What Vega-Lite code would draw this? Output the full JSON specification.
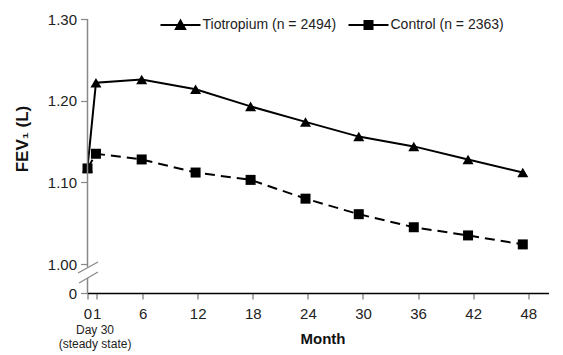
{
  "$schema": "https://vega.github.io/schema/vega-lite/v6.json",
  "width": 461,
  "height": 274,
  "autosize": {"type": "none"},
  "padding": {"left": 87.5, "top": 19, "right": 14.5, "bottom": 62},
  "config": {
    "view": {"stroke": null},
    "font": "Liberation Sans",
    "axis": {"grid": false, "labelFont": "Liberation Sans", "titleFont": "Liberation Sans"},
    "legend": {"labelFont": "Liberation Sans"}
  },
  "datasets": {
    "one": [{"k": 1}]
  },
  "data": {
    "values": [
      {"series": "Tiotropium (n = 2494)", "month": 0, "fev": 1.118},
      {"series": "Tiotropium (n = 2494)", "month": 0.92, "fev": 1.222},
      {"series": "Tiotropium (n = 2494)", "month": 5.9, "fev": 1.226},
      {"series": "Tiotropium (n = 2494)", "month": 11.77, "fev": 1.214},
      {"series": "Tiotropium (n = 2494)", "month": 17.76, "fev": 1.193},
      {"series": "Tiotropium (n = 2494)", "month": 23.74, "fev": 1.174},
      {"series": "Tiotropium (n = 2494)", "month": 29.54, "fev": 1.156},
      {"series": "Tiotropium (n = 2494)", "month": 35.53, "fev": 1.144},
      {"series": "Tiotropium (n = 2494)", "month": 41.44, "fev": 1.128},
      {"series": "Tiotropium (n = 2494)", "month": 47.4, "fev": 1.112},
      {"series": "Control (n = 2363)", "month": 0, "fev": 1.117},
      {"series": "Control (n = 2363)", "month": 0.92, "fev": 1.135},
      {"series": "Control (n = 2363)", "month": 5.9, "fev": 1.128},
      {"series": "Control (n = 2363)", "month": 11.77, "fev": 1.112},
      {"series": "Control (n = 2363)", "month": 17.76, "fev": 1.103},
      {"series": "Control (n = 2363)", "month": 23.74, "fev": 1.080},
      {"series": "Control (n = 2363)", "month": 29.54, "fev": 1.061},
      {"series": "Control (n = 2363)", "month": 35.53, "fev": 1.045},
      {"series": "Control (n = 2363)", "month": 41.44, "fev": 1.035},
      {"series": "Control (n = 2363)", "month": 47.4, "fev": 1.024}
    ]
  },
  "layer": [
    {
      "encoding": {
        "x": {
          "field": "month",
          "type": "quantitative",
          "scale": {"domain": [0, 50.2], "nice": false, "zero": false},
          "axis": {
            "values": [0, 1, 6, 12, 18, 24, 30, 36, 42, 48],
            "format": "d",
            "labelFlush": false,
            "labelOverlap": false,
            "domainColor": "black",
            "domainWidth": 1.5,
            "tickColor": "#777",
            "tickWidth": 1.2,
            "tickSize": 6,
            "labelFontSize": 15,
            "labelColor": "#222",
            "labelPadding": 7,
            "title": "Month",
            "titleFontSize": 15,
            "titleFontWeight": "bold",
            "titleColor": "#111",
            "titleX": 235,
            "titleY": 45,
            "titleAlign": "center",
            "titleBaseline": "middle"
          }
        },
        "y": {
          "field": "fev",
          "type": "quantitative",
          "scale": {"domain": [0, 1, 1.3], "range": [274, 245, 0], "nice": false, "zero": false},
          "axis": {
            "values": [0, 1, 1.1, 1.2, 1.3],
            "labelExpr": "datum.value == 0 ? '0' : format(datum.value, '.2f')",
            "domain": false,
            "tickColor": "#888",
            "tickWidth": 1.2,
            "tickSize": 7,
            "labelFontSize": 15,
            "labelColor": "#222",
            "labelPadding": 4,
            "title": "FEV₁ (L)",
            "titleFontSize": 17,
            "titleFontWeight": "bold",
            "titleColor": "#111",
            "titleX": -65,
            "titleY": 119.5,
            "titleAngle": -90,
            "titleAlign": "center",
            "titleBaseline": "middle"
          }
        }
      },
      "layer": [
        {
          "transform": [{"filter": "datum.series == 'Tiotropium (n = 2494)'"}],
          "mark": {"type": "line", "color": "black", "strokeWidth": 2}
        },
        {
          "transform": [{"filter": "datum.series == 'Control (n = 2363)'"}],
          "mark": {"type": "line", "color": "black", "strokeWidth": 2, "strokeDash": [10, 6]}
        },
        {
          "transform": [{"filter": "datum.series == 'Tiotropium (n = 2494)'"}],
          "mark": {"type": "point", "shape": "triangle-up", "filled": true, "color": "black", "size": 121, "opacity": 1}
        },
        {
          "transform": [{"filter": "datum.series == 'Control (n = 2363)'"}],
          "mark": {"type": "point", "shape": "square", "filled": true, "color": "black", "size": 100, "opacity": 1}
        },
        {
          "transform": [{"filter": "datum.month < -100"}],
          "mark": {"type": "point", "filled": false, "color": "black", "strokeWidth": 2, "opacity": 1},
          "encoding": {
            "shape": {
              "field": "series",
              "type": "nominal",
              "scale": {
                "domain": ["Tiotropium (n = 2494)", "Control (n = 2363)"],
                "range": [
                  "M-1,0H1M-0.23,0.2L0,-0.22L0.23,0.2ZM-0.175,0.1H0.175M-0.12,0H0.12M-0.066,-0.1H0.066",
                  "M-1,0H1M-0.2,-0.2H0.2V0.2H-0.2ZM-0.2,-0.1H0.2M-0.2,0.1H0.2"
                ]
              },
              "legend": {
                "orient": "none",
                "legendX": 72,
                "legendY": -15,
                "direction": "horizontal",
                "title": null,
                "symbolSize": 1600,
                "symbolStrokeColor": "black",
                "symbolStrokeWidth": 2,
                "symbolOpacity": 1,
                "labelFontSize": 14,
                "labelColor": "#222",
                "labelOffset": 1,
                "columnPadding": 8,
                "padding": 0
              }
            }
          }
        }
      ]
    },
    {
      "data": {"name": "one"},
      "mark": {"type": "rule", "color": "#888", "strokeWidth": 1.5},
      "encoding": {
        "x": {"datum": 0, "type": "quantitative"},
        "y": {"datum": 0, "type": "quantitative"},
        "y2": {"datum": 0.517}
      }
    },
    {
      "data": {"name": "one"},
      "mark": {"type": "rule", "color": "#888", "strokeWidth": 1.5},
      "encoding": {
        "x": {"datum": 0, "type": "quantitative"},
        "y": {"datum": 0.897, "type": "quantitative"},
        "y2": {"datum": 1.3}
      }
    },
    {
      "data": {"name": "one"},
      "mark": {"type": "rule", "color": "#888", "strokeWidth": 1.2},
      "encoding": {
        "x": {"datum": -1.03, "type": "quantitative"},
        "x2": {"datum": 1.14},
        "y": {"datum": 0.69, "type": "quantitative"},
        "y2": {"datum": 1.0025}
      }
    },
    {
      "data": {"name": "one"},
      "mark": {"type": "rule", "color": "#888", "strokeWidth": 1.2},
      "encoding": {
        "x": {"datum": -0.92, "type": "quantitative"},
        "x2": {"datum": 1.14},
        "y": {"datum": 0.345, "type": "quantitative"},
        "y2": {"datum": 0.724}
      }
    },
    {
      "data": {"name": "one"},
      "mark": {"type": "text", "fontSize": 12, "align": "center", "baseline": "top", "dy": 32, "lineHeight": 14, "color": "#222"},
      "encoding": {
        "x": {"datum": 0.82, "type": "quantitative"},
        "y": {"datum": 0, "type": "quantitative"},
        "text": {"value": ["Day 30", "(steady state)"]}
      }
    }
  ]
}
